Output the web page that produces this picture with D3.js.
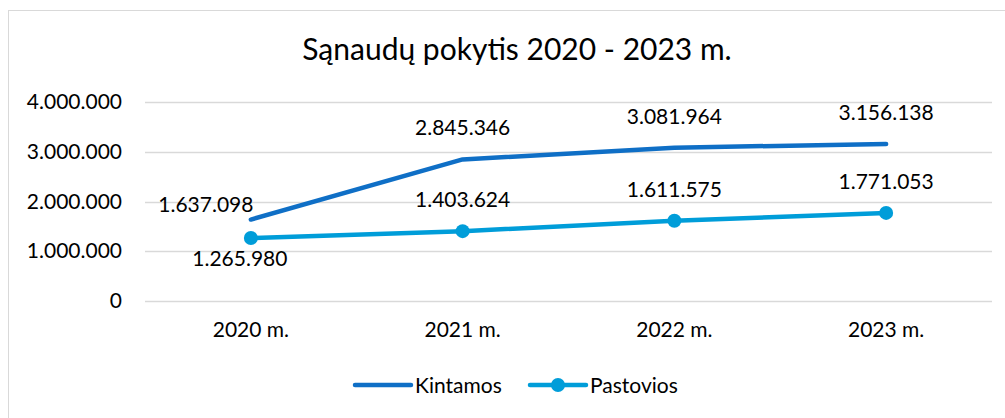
<!DOCTYPE html>
<html>
<head>
<meta charset="utf-8">
<script src="https://cdn.jsdelivr.net/npm/d3@7"></script>
<style>
  body { margin: 0; background: #fff; }
  text { font-family: Lato, "Noto Sans", sans-serif; fill: #000; }
</style>
</head>
<body>
<div id="chart"></div>
<script>
var years = ["2020 m.", "2021 m.", "2022 m.", "2023 m."];
var kintamos = [1637098, 2845346, 3081964, 3156138];
var pastovios = [1265980, 1403624, 1611575, 1771053];
var yTicks = [0, 1000000, 2000000, 3000000, 4000000];
var seriesNames = ["Kintamos", "Pastovios"];

var width = 1005, height = 418;
var padding = {left: 145, right: 13, top: 102, bottom: 117};

var svg = d3.select("#chart").append("svg")
    .attr("width", width)
    .attr("height", height);

// chart area border (only top and left visible)
svg.append("rect")
    .attr("x", 8.5).attr("y", 10.5)
    .attr("width", 1100).attr("height", 600)
    .attr("fill", "none")
    .attr("stroke", "#d9d9d9")
    .attr("stroke-width", 1);

// lithuanian number format: dots for thousands
var fmt = d3.formatLocale({decimal: ",", thousands: ".", grouping: [3], currency: ["", ""]}).format(",d");

var xScale = d3.scaleBand()
    .domain(years)
    .range([padding.left, width - padding.right]);

var yScale = d3.scaleLinear()
    .domain([0, 4000000])
    .range([height - padding.bottom, padding.top]);

function cx(i) { return xScale(years[i]) + xScale.bandwidth() / 2; }

// title
svg.append("text")
    .attr("x", 517).attr("y", 60)
    .attr("text-anchor", "middle")
    .attr("font-size", 30)
    .text("Sąnaudų pokytis 2020 - 2023 m.");

// grid
svg.append("g")
    .selectAll("line")
    .data(yTicks)
    .enter().append("line")
    .attr("x1", padding.left).attr("x2", width - padding.right)
    .attr("y1", function (d) { return Math.round(yScale(d)) + 0.5; })
    .attr("y2", function (d) { return Math.round(yScale(d)) + 0.5; })
    .attr("stroke", "#d9d9d9")
    .attr("stroke-width", 1.3);

// y axis
var yAxis = d3.axisLeft(yScale).tickValues(yTicks).tickFormat(fmt).tickSize(0).tickPadding(23);
var gy = svg.append("g")
    .attr("transform", "translate(" + padding.left + ",0)")
    .call(yAxis);
gy.select(".domain").remove();
gy.selectAll("text").attr("font-size", 21).attr("font-family", "Lato, sans-serif");

// x axis
var xAxis = d3.axisBottom(xScale).tickSize(0).tickPadding(21);
var gx = svg.append("g")
    .attr("transform", "translate(0," + yScale(0) + ")")
    .call(xAxis);
gx.select(".domain").remove();
gx.selectAll("text").attr("font-size", 21).attr("font-family", "Lato, sans-serif");

var line = d3.line()
    .x(function (d, i) { return cx(i); })
    .y(function (d) { return yScale(d); });

var colors = ["#0f6fc6", "#009dd9"];

svg.append("path")
    .datum(kintamos)
    .attr("d", line)
    .attr("fill", "none")
    .attr("stroke", colors[0])
    .attr("stroke-width", 4.5)
    .attr("stroke-linecap", "round")
    .attr("stroke-linejoin", "round");

svg.append("path")
    .datum(pastovios)
    .attr("d", line)
    .attr("fill", "none")
    .attr("stroke", colors[1])
    .attr("stroke-width", 4.5)
    .attr("stroke-linecap", "round")
    .attr("stroke-linejoin", "round");

svg.selectAll(".dot")
    .data(pastovios)
    .enter().append("circle")
    .attr("class", "dot")
    .attr("cx", function (d, i) { return cx(i); })
    .attr("cy", function (d) { return yScale(d); })
    .attr("r", 7)
    .attr("fill", colors[1]);

// data labels
svg.selectAll(".lblK")
    .data(kintamos)
    .enter().append("text")
    .attr("class", "lblK")
    .attr("font-size", 21)
    .attr("text-anchor", "middle")
    .attr("x", function (d, i) { return i === 0 ? cx(i) - 45 : cx(i); })
    .attr("y", function (d, i) { return i === 0 ? yScale(d) - 8 : yScale(d) - 24; })
    .text(fmt);

svg.selectAll(".lblP")
    .data(pastovios)
    .enter().append("text")
    .attr("class", "lblP")
    .attr("font-size", 21)
    .attr("text-anchor", "middle")
    .attr("x", function (d, i) { return i === 0 ? cx(i) - 11 : cx(i); })
    .attr("y", function (d, i) { return i === 0 ? yScale(d) + 28 : yScale(d) - 24; })
    .text(fmt);

// legend
var legend = svg.append("g").attr("transform", "translate(355,385)");
var items = legend.selectAll("g")
    .data(seriesNames)
    .enter().append("g")
    .attr("transform", function (d, i) { return "translate(" + (i * 175) + ",0)"; });
items.append("line")
    .attr("x1", 0).attr("x2", 56)
    .attr("stroke", function (d, i) { return colors[i]; })
    .attr("stroke-width", 4.5)
    .attr("stroke-linecap", "round");
items.filter(function (d, i) { return i === 1; })
    .append("circle")
    .attr("cx", 28).attr("r", 7)
    .attr("fill", colors[1]);
items.append("text")
    .attr("x", 60).attr("y", 7.5)
    .attr("font-size", 21)
    .text(function (d) { return d; });
</script>
</body>
</html>
